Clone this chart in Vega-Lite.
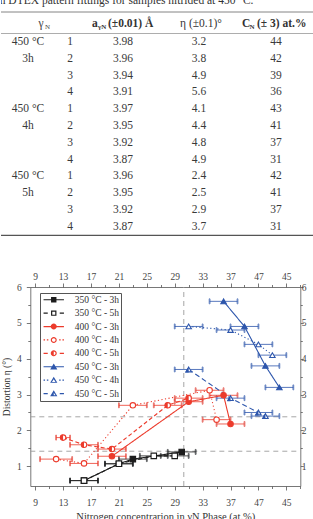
{
  "$schema": "https://vega.github.io/schema/vega-lite/v6.json",
  "padding": 0,
  "background": "white",
  "width": 313,
  "height": 486,
  "config": {
    "view": {"stroke": null},
    "font": "Liberation Serif",
    "axis": {
      "grid": false,
      "domainColor": "#555",
      "domainWidth": 0.8,
      "tickColor": "#555",
      "tickWidth": 0.8,
      "labelColor": "#444",
      "labelFont": "Liberation Serif",
      "labelFontSize": 9.5,
      "titleFont": "Liberation Serif",
      "titleFontWeight": "normal",
      "titleColor": "#333",
      "labelOverlap": false,
      "labelFlush": false,
      "labelBound": false
    }
  },
  "resolve": {
    "scale": {"x": "independent", "y": "independent", "shape": "independent", "fill": "independent"},
    "axis": {"x": "independent", "y": "independent"}
  },
  "datasets": {
    "points": [
      {"s": "350 °C - 3h", "c": 16, "eta": 0.6, "e": 2},
      {"s": "350 °C - 3h", "c": 21, "eta": 1.07, "e": 2},
      {"s": "350 °C - 3h", "c": 23, "eta": 1.2, "e": 2},
      {"s": "350 °C - 3h", "c": 30, "eta": 1.4, "e": 2},
      {"s": "350 °C - 5h", "c": 16, "eta": 0.6, "e": 2},
      {"s": "350 °C - 5h", "c": 21, "eta": 1.07, "e": 2},
      {"s": "350 °C - 5h", "c": 26, "eta": 1.29, "e": 2},
      {"s": "350 °C - 5h", "c": 29, "eta": 1.29, "e": 2},
      {"s": "400 °C - 3h", "c": 20, "eta": 1.28, "e": 2},
      {"s": "400 °C - 3h", "c": 31, "eta": 2.8, "e": 2},
      {"s": "400 °C - 3h", "c": 36, "eta": 2.98, "e": 2},
      {"s": "400 °C - 3h", "c": 37, "eta": 2.18, "e": 2},
      {"s": "400 °C - 4h", "c": 12, "eta": 1.2, "e": 2.3},
      {"s": "400 °C - 4h", "c": 16, "eta": 1.08, "e": 2},
      {"s": "400 °C - 4h", "c": 23, "eta": 2.7, "e": 2},
      {"s": "400 °C - 4h", "c": 34, "eta": 3.12, "e": 2},
      {"s": "400 °C - 4h", "c": 35, "eta": 2.3, "e": 2},
      {"s": "400 °C - 5h", "c": 13, "eta": 1.8, "e": 1},
      {"s": "400 °C - 5h", "c": 16, "eta": 1.6, "e": 2},
      {"s": "400 °C - 5h", "c": 20, "eta": 1.48, "e": 2},
      {"s": "400 °C - 5h", "c": 28, "eta": 2.7, "e": 2},
      {"s": "400 °C - 5h", "c": 31, "eta": 2.9, "e": 2},
      {"s": "450 °C - 3h", "c": 36, "eta": 5.6, "e": 2},
      {"s": "450 °C - 3h", "c": 39, "eta": 4.9, "e": 2},
      {"s": "450 °C - 3h", "c": 42, "eta": 3.8, "e": 2},
      {"s": "450 °C - 3h", "c": 44, "eta": 3.2, "e": 2},
      {"s": "450 °C - 4h", "c": 31, "eta": 4.9, "e": 2},
      {"s": "450 °C - 4h", "c": 37, "eta": 4.8, "e": 2},
      {"s": "450 °C - 4h", "c": 41, "eta": 4.4, "e": 2},
      {"s": "450 °C - 4h", "c": 43, "eta": 4.1, "e": 2},
      {"s": "450 °C - 5h", "c": 31, "eta": 3.7, "e": 2},
      {"s": "450 °C - 5h", "c": 37, "eta": 2.9, "e": 2},
      {"s": "450 °C - 5h", "c": 41, "eta": 2.5, "e": 2},
      {"s": "450 °C - 5h", "c": 42, "eta": 2.4, "e": 2}
    ]
  },
  "layer": [
    {
      "data": {"values": [{"k": -0.5}]},
      "mark": {"type": "rule", "color": "#666", "strokeWidth": 0.8},
      "encoding": {"y": {"field": "k", "type": "quantitative", "axis": null,
        "scale": {"domain": [-1, -0.5, 0, 0.5, 1, 12, 12.5], "range": [3.5, 12, 24, 33.5, 42, 226.7, 235.3], "zero": false, "nice": false}}}
    },
    {
      "data": {"values": [{"k": 0.5}]},
      "mark": {"type": "rule", "color": "#8a8a8a", "strokeWidth": 0.7},
      "encoding": {"y": {"field": "k", "type": "quantitative", "axis": null,
        "scale": {"domain": [-1, -0.5, 0, 0.5, 1, 12, 12.5], "range": [3.5, 12, 24, 33.5, 42, 226.7, 235.3], "zero": false, "nice": false}}}
    },
    {
      "data": {"values": [{"k": 12.5}]},
      "mark": {"type": "rule", "color": "#555", "strokeWidth": 1.2},
      "encoding": {"y": {"field": "k", "type": "quantitative", "axis": null,
        "scale": {"domain": [-1, -0.5, 0, 0.5, 1, 12, 12.5], "range": [3.5, 12, 24, 33.5, 42, 226.7, 235.3], "zero": false, "nice": false}}}
    },
    {
      "encoding": {
        "x": {"field": "c", "type": "quantitative", "axis": null,
          "scale": {"domain": [0, 1, 2, 3, 4], "range": [27, 69, 122, 198, 275], "zero": false, "nice": false}},
        "y": {"field": "r", "type": "quantitative", "axis": null,
          "scale": {"domain": [-1, -0.5, 0, 0.5, 1, 12, 12.5], "range": [3.5, 12, 24, 33.5, 42, 226.7, 235.3], "zero": false, "nice": false}},
        "text": {"field": "t"}
      },
      "layer": [
        {
          "data": {"values": [{"r": -1, "c": 2, "t": "in DTEX pattern fittings for samples nitrided at 450 °C."}]},
          "mark": {"type": "text", "clip": true, "baseline": "alphabetic", "align": "center", "dx": 2, "fontSize": 11.5, "color": "#333"}
        },
        {
          "data": {"values": [{"r": 0, "c": 0, "t": "γ"}]},
          "mark": {"type": "text", "baseline": "middle", "align": "center", "dx": 13, "fontSize": 11.5, "color": "#444"}
        },
        {
          "data": {"values": [{"r": 0, "c": 0, "t": "N"}]},
          "mark": {"type": "text", "baseline": "middle", "align": "left", "dx": 17, "dy": 3, "fontSize": 7, "color": "#444"}
        },
        {
          "data": {"values": [{"r": 0, "c": 2, "t": "a"}]},
          "mark": {"type": "text", "baseline": "middle", "align": "left", "dx": -31, "fontSize": 11.5, "fontWeight": "bold", "color": "#333"}
        },
        {
          "data": {"values": [{"r": 0, "c": 2, "t": "γN"}]},
          "mark": {"type": "text", "baseline": "middle", "align": "left", "dx": -25, "dy": 3, "fontSize": 7, "fontWeight": "bold", "color": "#333"}
        },
        {
          "data": {"values": [{"r": 0, "c": 2, "t": "(±0.01) Å"}]},
          "mark": {"type": "text", "baseline": "middle", "align": "left", "dx": -15, "fontSize": 11.5, "fontWeight": "bold", "color": "#333"}
        },
        {
          "data": {"values": [{"r": 0, "c": 3, "t": "η (±0.1)°"}]},
          "mark": {"type": "text", "baseline": "middle", "align": "center", "dx": 2, "fontSize": 11.5, "color": "#333"}
        },
        {
          "data": {"values": [{"r": 0, "c": 4, "t": "C"}]},
          "mark": {"type": "text", "baseline": "middle", "align": "left", "dx": -34, "fontSize": 11.5, "fontWeight": "bold", "color": "#333"}
        },
        {
          "data": {"values": [{"r": 0, "c": 4, "t": "N"}]},
          "mark": {"type": "text", "baseline": "middle", "align": "left", "dx": -26.5, "dy": 3, "fontSize": 7, "fontWeight": "bold", "color": "#333"}
        },
        {
          "data": {"values": [{"r": 0, "c": 4, "t": "(± 3) at.%"}]},
          "mark": {"type": "text", "baseline": "middle", "align": "left", "dx": -19, "fontSize": 11.5, "fontWeight": "bold", "color": "#333"}
        },
        {
          "data": {"values": [
            {"r": 1, "c": 0, "t": "450 °C"}, {"r": 1, "c": 1, "t": "1"}, {"r": 1, "c": 2, "t": "3.98"}, {"r": 1, "c": 3, "t": "3.2"}, {"r": 1, "c": 4, "t": "44"},
            {"r": 2, "c": 0, "t": "3h"}, {"r": 2, "c": 1, "t": "2"}, {"r": 2, "c": 2, "t": "3.96"}, {"r": 2, "c": 3, "t": "3.8"}, {"r": 2, "c": 4, "t": "42"},
            {"r": 3, "c": 1, "t": "3"}, {"r": 3, "c": 2, "t": "3.94"}, {"r": 3, "c": 3, "t": "4.9"}, {"r": 3, "c": 4, "t": "39"},
            {"r": 4, "c": 1, "t": "4"}, {"r": 4, "c": 2, "t": "3.91"}, {"r": 4, "c": 3, "t": "5.6"}, {"r": 4, "c": 4, "t": "36"},
            {"r": 5, "c": 0, "t": "450 °C"}, {"r": 5, "c": 1, "t": "1"}, {"r": 5, "c": 2, "t": "3.97"}, {"r": 5, "c": 3, "t": "4.1"}, {"r": 5, "c": 4, "t": "43"},
            {"r": 6, "c": 0, "t": "4h"}, {"r": 6, "c": 1, "t": "2"}, {"r": 6, "c": 2, "t": "3.95"}, {"r": 6, "c": 3, "t": "4.4"}, {"r": 6, "c": 4, "t": "41"},
            {"r": 7, "c": 1, "t": "3"}, {"r": 7, "c": 2, "t": "3.92"}, {"r": 7, "c": 3, "t": "4.8"}, {"r": 7, "c": 4, "t": "37"},
            {"r": 8, "c": 1, "t": "4"}, {"r": 8, "c": 2, "t": "3.87"}, {"r": 8, "c": 3, "t": "4.9"}, {"r": 8, "c": 4, "t": "31"},
            {"r": 9, "c": 0, "t": "450 °C"}, {"r": 9, "c": 1, "t": "1"}, {"r": 9, "c": 2, "t": "3.96"}, {"r": 9, "c": 3, "t": "2.4"}, {"r": 9, "c": 4, "t": "42"},
            {"r": 10, "c": 0, "t": "5h"}, {"r": 10, "c": 1, "t": "2"}, {"r": 10, "c": 2, "t": "3.95"}, {"r": 10, "c": 3, "t": "2.5"}, {"r": 10, "c": 4, "t": "41"},
            {"r": 11, "c": 1, "t": "3"}, {"r": 11, "c": 2, "t": "3.92"}, {"r": 11, "c": 3, "t": "2.9"}, {"r": 11, "c": 4, "t": "37"},
            {"r": 12, "c": 1, "t": "4"}, {"r": 12, "c": 2, "t": "3.87"}, {"r": 12, "c": 3, "t": "3.7"}, {"r": 12, "c": 4, "t": "31"}
          ]},
          "mark": {"type": "text", "baseline": "middle", "align": "center", "fontSize": 11.5, "color": "#3a3a3a"}
        }
      ]
    },
    {
      "data": {"values": [{"v": 30.3}]},
      "mark": {"type": "rule", "color": "#9c9c9c", "strokeDash": [5, 4], "strokeWidth": 0.9},
      "encoding": {
        "x": {"field": "v", "type": "quantitative",
          "scale": {"domain": [8.3, 47], "range": [29.3, 299.3], "zero": false, "nice": false},
          "axis": {
            "orient": "bottom",
            "values": [9, 11, 13, 15, 17, 19, 21, 23, 25, 27, 29, 31, 33, 35, 37, 39, 41, 43, 45, 47],
            "labelExpr": "datum.value % 4 == 1 ? (datum.value == 41 ? '47' : datum.label) : ''",
            "tickSize": {"condition": {"test": "datum.value % 4 == 1", "value": 4}, "value": 2.5},
            "labelPadding": 7,
            "title": "Nitrogen concentrarion in γN Phase (at.%)",
            "titleFontSize": 10.5,
            "titlePadding": 5
          }
        },
        "y": {"datum": 0.45, "type": "quantitative", "axis": null,
          "scale": {"domain": [0.45, 6], "range": [486, 287], "zero": false, "nice": false}},
        "y2": {"datum": 6}
      }
    },
    {
      "data": {"values": [{"v": 2.38}, {"v": 1.42}]},
      "mark": {"type": "rule", "color": "#9c9c9c", "strokeDash": [5, 4], "strokeWidth": 0.9},
      "encoding": {
        "x": {"datum": 8.3, "type": "quantitative", "axis": null,
          "scale": {"domain": [8.3, 47], "range": [29.3, 299.3], "zero": false, "nice": false}},
        "x2": {"datum": 47},
        "y": {"field": "v", "type": "quantitative",
          "scale": {"domain": [0.45, 6], "range": [486, 287], "zero": false, "nice": false},
          "axis": {
            "orient": "left",
            "offset": -29.3,
            "values": [1, 1.5, 2, 2.5, 3, 3.5, 4, 4.5, 5, 5.5, 6],
            "labelExpr": "datum.value % 1 == 0 ? format(datum.value, 'd') : ''",
            "tickSize": {"condition": {"test": "datum.value % 1 == 0", "value": 4}, "value": 2.5},
            "labelPadding": 5,
            "title": "Distortion η (°)",
            "titleFontSize": 9.5,
            "titlePadding": 5
          }
        }
      }
    },
    {
      "data": {"name": "points"},
      "mark": {"type": "errorbar", "ticks": true, "thickness": 0.8},
      "encoding": {
        "x": {"field": "c", "type": "quantitative", "axis": null,
          "scale": {"domain": [8.3, 47], "range": [29.3, 299.3], "zero": false, "nice": false}},
        "xError": {"field": "e"},
        "y": {"field": "eta", "type": "quantitative", "axis": null,
          "scale": {"domain": [0.45, 6], "range": [486, 287], "zero": false, "nice": false}},
        "stroke": {"field": "s", "type": "nominal", "legend": null,
          "scale": {"domain": ["350 °C - 3h", "350 °C - 5h", "400 °C - 3h", "400 °C - 4h", "400 °C - 5h", "450 °C - 3h", "450 °C - 4h", "450 °C - 5h"],
            "range": ["#1c1c1c", "#1c1c1c", "#ec3b2c", "#ec3b2c", "#ec3b2c", "#2d56ac", "#2d56ac", "#2d56ac"]}}
      }
    },
    {
      "data": {"name": "points"},
      "mark": {"type": "line", "strokeWidth": 1.1},
      "encoding": {
        "x": {"field": "c", "type": "quantitative",
          "scale": {"domain": [8.3, 47], "range": [29.3, 299.3], "zero": false, "nice": false},
          "axis": {
            "orient": "top",
            "offset": -287,
            "values": [9, 11, 13, 15, 17, 19, 21, 23, 25, 27, 29, 31, 33, 35, 37, 39, 41, 43, 45, 47],
            "labelExpr": "datum.value % 4 == 1 ? (datum.value == 41 ? '47' : datum.label) : ''",
            "tickSize": {"condition": {"test": "datum.value % 4 == 1", "value": 4}, "value": 2.5},
            "labelPadding": 1.5,
            "title": null
          }
        },
        "y": {"field": "eta", "type": "quantitative",
          "scale": {"domain": [0.45, 6], "range": [486, 287], "zero": false, "nice": false},
          "axis": {
            "orient": "right",
            "offset": -13.7,
            "values": [1, 1.5, 2, 2.5, 3, 3.5, 4, 4.5, 5, 5.5, 6],
            "labelExpr": "datum.value % 1 == 0 ? format(datum.value, 'd') : ''",
            "tickSize": {"condition": {"test": "datum.value % 1 == 0", "value": 3}, "value": 2},
            "labelPadding": -2,
            "title": null
          }
        },
        "color": {"field": "s", "type": "nominal", "legend": null,
          "scale": {"domain": ["350 °C - 3h", "350 °C - 5h", "400 °C - 3h", "400 °C - 4h", "400 °C - 5h", "450 °C - 3h", "450 °C - 4h", "450 °C - 5h"],
            "range": ["#1c1c1c", "#1c1c1c", "#ec3b2c", "#ec3b2c", "#ec3b2c", "#2d56ac", "#2d56ac", "#2d56ac"]}},
        "strokeDash": {"field": "s", "type": "nominal", "legend": null,
          "scale": {"domain": ["350 °C - 3h", "350 °C - 5h", "400 °C - 3h", "400 °C - 4h", "400 °C - 5h", "450 °C - 3h", "450 °C - 4h", "450 °C - 5h"],
            "range": [[1, 0], [4, 2.5], [1, 0], [1.2, 2.4], [4, 2.5], [1, 0], [1.2, 2.4], [5, 3]]}}
      }
    },
    {
      "data": {"name": "points"},
      "mark": {"type": "point", "strokeWidth": 1.1, "opacity": 1},
      "encoding": {
        "x": {"field": "c", "type": "quantitative", "axis": null,
          "scale": {"domain": [8.3, 47], "range": [29.3, 299.3], "zero": false, "nice": false}},
        "y": {"field": "eta", "type": "quantitative", "axis": null,
          "scale": {"domain": [0.45, 6], "range": [486, 287], "zero": false, "nice": false}},
        "shape": {"field": "s", "type": "nominal", "legend": null,
          "scale": {"domain": ["350 °C - 3h", "350 °C - 5h", "400 °C - 3h", "400 °C - 4h", "400 °C - 5h", "450 °C - 3h", "450 °C - 4h", "450 °C - 5h"],
            "range": ["square", "square", "circle", "circle", "circle", "triangle-up", "triangle-up", "triangle-up"]}},
        "fill": {"field": "s", "type": "nominal", "legend": null,
          "scale": {"domain": ["350 °C - 3h", "350 °C - 5h", "400 °C - 3h", "400 °C - 4h", "400 °C - 5h", "450 °C - 3h", "450 °C - 4h", "450 °C - 5h"],
            "range": ["#1c1c1c", "white", "#ec3b2c", "white", "white", "#2d56ac", "white", "white"]}},
        "stroke": {"field": "s", "type": "nominal", "legend": null,
          "scale": {"domain": ["350 °C - 3h", "350 °C - 5h", "400 °C - 3h", "400 °C - 4h", "400 °C - 5h", "450 °C - 3h", "450 °C - 4h", "450 °C - 5h"],
            "range": ["#1c1c1c", "#1c1c1c", "#ec3b2c", "#ec3b2c", "#ec3b2c", "#2d56ac", "#2d56ac", "#2d56ac"]}},
        "size": {"field": "s", "type": "nominal", "legend": null,
          "scale": {"domain": ["350 °C - 3h", "350 °C - 5h", "400 °C - 3h", "400 °C - 4h", "400 °C - 5h", "450 °C - 3h", "450 °C - 4h", "450 °C - 5h"],
            "range": [30, 30, 36, 36, 36, 49, 49, 49]}}
      }
    },
    {
      "data": {"name": "points"},
      "transform": [{"filter": "datum.s == '400 °C - 5h'"}],
      "mark": {"type": "point", "shape": "M0,-1A1,1 0 0,0 0,1Z", "filled": true, "fill": "#ec3b2c", "strokeWidth": 0, "size": 36, "opacity": 1},
      "encoding": {
        "x": {"field": "c", "type": "quantitative", "axis": null,
          "scale": {"domain": [8.3, 47], "range": [29.3, 299.3], "zero": false, "nice": false}},
        "y": {"field": "eta", "type": "quantitative", "axis": null,
          "scale": {"domain": [0.45, 6], "range": [486, 287], "zero": false, "nice": false}}
      }
    },
    {
      "data": {"name": "points"},
      "transform": [{"filter": "datum.s == '450 °C - 5h'"}],
      "mark": {"type": "point", "shape": "M0,-0.866L-1,0.866L0,0.866Z", "filled": true, "fill": "#2d56ac", "strokeWidth": 0, "size": 49, "opacity": 1},
      "encoding": {
        "x": {"field": "c", "type": "quantitative", "axis": null,
          "scale": {"domain": [8.3, 47], "range": [29.3, 299.3], "zero": false, "nice": false}},
        "y": {"field": "eta", "type": "quantitative", "axis": null,
          "scale": {"domain": [0.45, 6], "range": [486, 287], "zero": false, "nice": false}}
      }
    },
    {
      "data": {"name": "points"},
      "transform": [{"filter": "false"}],
      "mark": {"type": "point", "filled": true, "strokeWidth": 0, "size": 36, "opacity": 1},
      "encoding": {
        "shape": {"field": "s", "type": "nominal",
          "scale": {"domain": ["350 °C - 3h", "350 °C - 5h", "400 °C - 3h", "400 °C - 4h", "400 °C - 5h", "450 °C - 3h", "450 °C - 4h", "450 °C - 5h"],
            "range": [
              "M-3.4,-0.2H3.4V0.2H-3.4Z M-0.9,-0.9H0.9V0.9H-0.9Z",
              "M-3.4,-0.2H-2.0V0.2H-3.4Z M2.0,-0.2H3.4V0.2H2.0Z M-0.9,-0.9H0.9V0.9H-0.9Z M-0.5,-0.5V0.5H0.5V-0.5Z",
              "M-3.4,-0.2H3.4V0.2H-3.4Z M-1,0A1,1 0 1,1 1,0A1,1 0 1,1 -1,0Z",
              "M-3.4,-0.2H-2.9V0.2H-3.4Z M-2.3,-0.2H-1.8V0.2H-2.3Z M1.8,-0.2H2.3V0.2H1.8Z M2.9,-0.2H3.4V0.2H2.9Z M-1,0A1,1 0 1,1 1,0A1,1 0 1,1 -1,0Z M-0.6,0A0.6,0.6 0 1,0 0.6,0A0.6,0.6 0 1,0 -0.6,0Z",
              "M-3.4,-0.2H-2.0V0.2H-3.4Z M2.0,-0.2H3.4V0.2H2.0Z M-1,0A1,1 0 1,1 1,0A1,1 0 1,1 -1,0Z M-0.6,0A0.6,0.6 0 1,0 0.6,0A0.6,0.6 0 1,0 -0.6,0Z M0,-0.6A0.6,0.6 0 0,0 0,0.6Z",
              "M-3.4,-0.2H3.4V0.2H-3.4Z M0,-1.1L1.2,0.9H-1.2Z",
              "M-3.4,-0.2H-2.9V0.2H-3.4Z M-2.3,-0.2H-1.8V0.2H-2.3Z M1.8,-0.2H2.3V0.2H1.8Z M2.9,-0.2H3.4V0.2H2.9Z M0,-1.1L1.2,0.9H-1.2Z M0,-0.3L-0.6,0.6H0.6Z",
              "M-3.4,-0.2H-2.0V0.2H-3.4Z M2.0,-0.2H3.4V0.2H2.0Z M0,-1.1L1.2,0.9H-1.2Z M0,-0.3L-0.6,0.6H0.6Z M0,-0.3L-0.6,0.6H0Z"
            ]},
          "legend": {
            "title": null, "orient": "none", "legendX": 39, "legendY": 293, "direction": "vertical",
            "padding": 2, "rowPadding": 2.4, "symbolSize": 36, "symbolStrokeWidth": 0, "symbolOpacity": 1,
            "symbolOffset": 7, "labelOffset": 16.3,
            "labelFont": "Liberation Serif", "labelFontSize": 9.5, "labelColor": "#333",
            "strokeColor": "#555", "fillColor": "white"
          }
        },
        "fill": {"field": "s", "type": "nominal",
          "scale": {"domain": ["350 °C - 3h", "350 °C - 5h", "400 °C - 3h", "400 °C - 4h", "400 °C - 5h", "450 °C - 3h", "450 °C - 4h", "450 °C - 5h"],
            "range": ["#1c1c1c", "#1c1c1c", "#ec3b2c", "#ec3b2c", "#ec3b2c", "#2d56ac", "#2d56ac", "#2d56ac"]},
          "legend": {
            "title": null, "orient": "none", "legendX": 39, "legendY": 293, "direction": "vertical",
            "padding": 2, "rowPadding": 2.4, "symbolSize": 36, "symbolStrokeWidth": 0, "symbolOpacity": 1,
            "symbolOffset": 7, "labelOffset": 16.3,
            "labelFont": "Liberation Serif", "labelFontSize": 9.5, "labelColor": "#333",
            "strokeColor": "#555", "fillColor": "white"
          }
        }
      }
    }
  ]
}
